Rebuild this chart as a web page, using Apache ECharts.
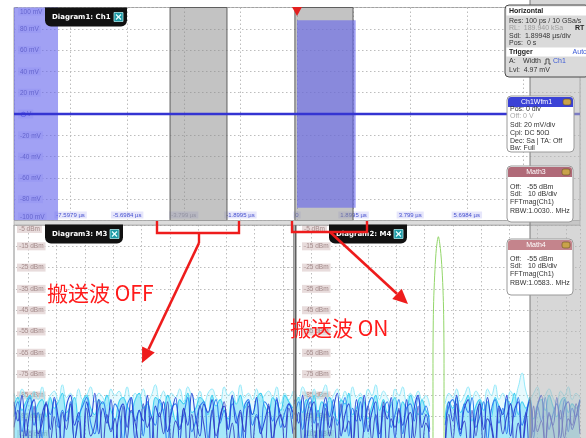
<!DOCTYPE html>
<html>
<head>
<meta charset="utf-8">
<script src="https://cdn.jsdelivr.net/npm/echarts@6/dist/echarts.min.js"></script>
<style>
html,body{margin:0;padding:0;background:#fff;}
#c{width:586px;height:438px;}
</style>
</head>
<body>
<div id="c"></div>
<script>
// ---- Diagram1: Ch1 (time domain) ----
const timePerDiv = 1.89948;             // µs/div
const timeTickLabels = ['', '-7.5979 µs', '-5.6984 µs', '-3.799 µs', '-1.8995 µs', '0',
                        '1.8995 µs', '3.799 µs', '5.6984 µs', '7.5979 µs', ''];
const voltTicks = [-100, -80, -60, -40, -20, 0, 20, 40, 60, 80, 100];
const voltTickLabels = ['-100 mV', '-80 mV', '-60 mV', '-40 mV', '-20 mV', '0 V',
                        '20 mV', '40 mV', '60 mV', '80 mV', '100 mV'];
const ch1Time = [-9.4974, 9.4974];      // µs
const ch1Volt = [0, 0];                 // mV (idle level)
const burstStart = [-9.4974, 0];        // µs
const burstEnd = [-8.02, 1.97];         // µs
const burstAmp = [100, 88];             // mV peak
const gateStart = [-4.26, -0.07];       // µs, FFT gate windows
const gateEnd = [-2.35, 1.88];          // µs

// ---- FFT diagrams (dBm); frequency expressed in screen divisions ----
const dbmTicks = [-105, -95, -85, -75, -65, -55, -45, -35, -25, -15, -5];
const m3Span = [0.49, 10.35];           // first / last bin, div
const m4Span = [0.42, 10.49];

// Diagram3: M3 (carrier off) persistence traces
const m3TraceA = [-90,-86,-92,-88,-85,-94,-89,-87,-95,-86,-91,-88,-84,-93,-90,-86,-97,-88,-85,-91,-94,-87,-89,-85,-92,-96,-88,-86,-90,-93,-87,-84,-91,-89,-95,-86,-88,-92,-85,-90,-97,-87,-89,-84,-93,-91,-86,-88,-94,-85,-90,-87,-92,-96,-86,-89,-85,-91,-88,-94,-87,-84,-90,-93,-86,-89,-92,-85,-88,-91];
const m3TraceB = [-84,-88,-82,-86,-90,-83,-87,-81,-89,-85,-83,-88,-80,-86,-84,-89,-82,-87,-85,-81,-88,-84,-86,-90,-82,-85,-83,-87,-81,-89,-84,-86,-82,-88,-85,-80,-87,-83,-89,-84,-86,-82,-88,-81,-85,-87,-83,-90,-84,-82,-86,-88,-81,-85,-83,-89,-80,-86,-84,-87,-82,-88,-85,-83,-86,-81,-89,-84,-87,-83];
const m3TraceC = [-95,-88,-102,-91,-86,-99,-93,-105,-89,-94,-87,-100,-92,-97,-88,-106,-95,-90,-86,-98,-103,-91,-88,-96,-101,-89,-93,-107,-90,-86,-97,-92,-104,-88,-95,-99,-87,-93,-108,-91,-89,-100,-94,-86,-102,-97,-90,-88,-105,-93,-87,-98,-92,-101,-89,-95,-106,-90,-87,-99,-94,-103,-88,-91,-97,-86,-100,-93,-89,-96];
const m3TraceD = [-88,-97,-85,-104,-92,-87,-110,-94,-89,-101,-86,-96,-108,-90,-85,-99,-93,-112,-88,-95,-84,-103,-91,-98,-87,-109,-94,-89,-100,-86,-106,-92,-97,-85,-111,-90,-95,-88,-102,-93,-86,-107,-91,-99,-84,-96,-104,-89,-93,-87,-110,-95,-90,-101,-85,-98,-92,-108,-88,-94,-86,-103,-97,-90,-111,-87,-95,-100,-89,-93];
const m3TraceE = [-100,-92,-109,-96,-114,-90,-103,-98,-88,-107,-95,-112,-93,-101,-89,-106,-97,-115,-91,-104,-99,-87,-110,-94,-102,-96,-113,-90,-105,-92,-98,-108,-89,-100,-95,-116,-93,-103,-88,-109,-97,-101,-91,-114,-94,-106,-90,-99,-111,-92,-104,-96,-88,-107,-98,-113,-93,-102,-90,-108,-95,-100,-112,-89,-105,-97,-94,-110,-91,-103];

// Diagram2: M4 (carrier on) persistence traces, no noise under the carrier lobe
const m4TraceA = [-89,-86,-93,-87,-91,-85,-95,-88,-90,-86, -92,-97,-87,-89,-84,-94,-91,-86,-88,-96, -90,-85,-92,-87,-93,-89,-86,-98,-88,-91, -85,-90,-94,-87,-92,-95,null,null,null,-96, -88,-91,-86,-93,-89,-85,-97,-90,-87,-92, -88,-95,-86,-90,-93,-87,-89,-84,-94,-88, -91,-86,-96,-89,-87,-92,-85,-90,-95,-88, -86,-93,-89,-91,-87];
const m4TraceB = [-83,-87,-81,-85,-89,-82,-86,-84,-80,-88, -85,-82,-87,-83,-89,-81,-86,-84,-88,-82, -85,-80,-87,-83,-86,-89,-82,-85,-81,-88, -84,-86,-83,-87,-85,-90,null,null,null,-89, -84,-86,-82,-88,-85,-81,-87,-83,-86,-89, -82,-85,-80,-87,-84,-88,-83,-86,-81,-74.5, -83,-87,-84,-81,-88,-85,-82,-86,-89,-83, -85,-81,-87,-84,-86];
const m4TraceC = [-94,-88,-101,-90,-86,-98,-92,-105,-89,-95, -87,-99,-93,-86,-104,-91,-97,-88,-102,-90, -86,-96,-107,-92,-88,-100,-94,-87,-103,-91, -89,-97,-86,-94,-90,-101,null,null,null,-99, -90,-87,-96,-104,-89,-93,-86,-100,-95,-88, -106,-92,-87,-98,-91,-103,-89,-95,-86,-99, -93,-88,-105,-90,-97,-86,-101,-94,-89,-96, -87,-102,-91,-95,-88];
const m4TraceD = [-87,-98,-85,-106,-92,-88,-111,-95,-86,-100, -91,-84,-104,-94,-89,-109,-87,-97,-85,-102, -93,-88,-113,-90,-96,-86,-105,-92,-99,-87, -108,-91,-85,-100,-94,-112,null,null,null,-110, -88,-97,-85,-103,-91,-87,-110,-95,-89,-101, -86,-98,-107,-90,-94,-85,-104,-92,-88,-111, -96,-87,-102,-90,-85,-108,-93,-99,-86,-105, -91,-88,-101,-95,-87];
const m4TraceE = [-101,-93,-110,-96,-88,-107,-98,-115,-91,-104, -95,-112,-89,-102,-97,-108,-92,-116,-99,-90, -106,-94,-103,-88,-113,-96,-100,-91,-109,-97, -93,-105,-90,-114,-98,-102,null,null,null,-112, -94,-106,-89,-101,-97,-115,-92,-104,-88,-109, -96,-100,-113,-91,-103,-95,-89,-110,-98,-107, -93,-116,-90,-102,-97,-108,-94,-100,-111,-92, -105,-96,-99,-89,-103];

// Carrier main lobe in M4 (position in divisions, level in dBm)
const carrierDiv = [5.30, 5.30, 5.31, 5.33, 5.37, 5.42, 5.49, 5.56, 5.62, 5.66, 5.68, 5.69, 5.69];
const carrierDbm = [-112, -70, -50, -38, -26, -16, -10.5, -16, -26, -38, -50, -70, -112];

const traceColors = ['#2cc9ef', '#8ae6f8', '#2f7ff0', '#2a48d8', '#3038c0'];
const FONT = '"Liberation Sans", Arial, sans-serif';
const DIV_PX = 28.3;                    // FFT division width

function tracePoints(values, span) {
  const n = values.length - 1;
  return values.map((v, i) => [span[0] + i * (span[1] - span[0]) / n, v === null ? '-' : v]);
}

function fftSeries(traces, span, axisIdx) {
  return traces.map((vals, k) => ({
    type: 'line', xAxisIndex: axisIdx, yAxisIndex: axisIdx,
    data: tracePoints(vals, span), smooth: 0.45, symbol: 'none', connectNulls: false,
    silent: true, z: 3 + k,
    lineStyle: { color: traceColors[k], width: k === 1 ? 0.9 : 1.1, opacity: k === 4 ? 0.85 : 1 },
    areaStyle: k === 0 ? { color: 'rgba(44,201,239,0.55)', origin: 'start' }
             : (k === 1 ? { color: 'rgba(138,230,248,0.3)', origin: 'start' } : undefined)
  }));
}

const dotted = { show: true, lineStyle: { color: '#bdbdbd', type: [1.5, 2.5], width: 1 } };

function fftYAxis(idx, margin) {
  return {
    type: 'value', gridIndex: idx, min: -105, max: -5, interval: 10,
    axisLine: { show: false }, axisTick: { show: false }, splitLine: dotted,
    axisLabel: {
      inside: true, margin: margin, fontSize: 6.5, fontFamily: FONT, color: '#a38a8a',
      backgroundColor: 'rgba(228,214,214,0.85)', padding: [1, 2, 0, 2],
      verticalAlignMinLabel: 'bottom', verticalAlignMaxLabel: 'top',
      formatter: v => dbmTicks[Math.round((v + 105) / 10)] + ' dBm'
    }
  };
}
function fftXAxis(idx, max) {
  return {
    type: 'value', gridIndex: idx, min: 0, max: max, interval: 1,
    axisLine: { show: false }, axisTick: { show: false }, splitLine: dotted,
    axisLabel: { show: false }
  };
}

function txt(x, y, text, opts) {
  opts = opts || {};
  return {
    type: 'text', x: x, y: y, z: opts.z || 122, silent: true,
    style: {
      text: text, fill: opts.fill || '#333', font: opts.font || ('7px ' + FONT),
      align: opts.align || 'left', verticalAlign: 'middle'
    }
  };
}

function tab(x, y, w, label) {
  return {
    type: 'group', x: x, y: y, z: 110, silent: true,
    children: [
      { type: 'rect', shape: { x: 0, y: 0, width: w, height: 19, r: [0, 0, 6, 6] }, style: { fill: '#111' }, z: 110 },
      txt(7, 9.5, label, { fill: '#fff', font: 'bold 7px "DejaVu Sans", sans-serif', z: 111 }),
      { type: 'rect', shape: { x: w - 13, y: 5, width: 9, height: 9 }, style: { fill: '#1d9aa6', stroke: '#a8e6ea', lineWidth: 0.8 }, z: 111 },
      { type: 'polyline', shape: { points: [[w - 11, 7], [w - 6, 12]] }, style: { stroke: '#e8ffff', lineWidth: 1.2 }, z: 112 },
      { type: 'polyline', shape: { points: [[w - 6, 7], [w - 11, 12]] }, style: { stroke: '#e8ffff', lineWidth: 1.2 }, z: 112 }
    ]
  };
}

function infoBox(x, y, w, h, title, headColor, rows) {
  const kids = [
    { type: 'rect', shape: { x: 0, y: 0, width: w, height: h, r: 4 }, style: { fill: '#fff', stroke: '#9a9a9a', lineWidth: 1 }, z: 120 },
    { type: 'rect', shape: { x: 1, y: 1, width: w - 2, height: 10, r: [3, 3, 0, 0] }, style: { fill: headColor }, z: 121 },
    txt(w / 2 - 4, 6, title, { fill: '#fff', align: 'center', z: 122 }),
    { type: 'rect', shape: { x: w - 11, y: 3, width: 8, height: 6, r: 2 }, style: { fill: '#c9a24a', stroke: '#6a5420', lineWidth: 0.6 }, z: 122 }
  ];
  rows.forEach(r => kids.push(txt(3, r[0], r[1], { fill: r[2] || '#333', z: 122 })));
  return { type: 'group', x: x, y: y, z: 120, silent: true, children: kids };
}

function arrow(x1, y1, x2, y2) {
  const ang = Math.atan2(y2 - y1, x2 - x1);
  const L = 15, W = 7;
  const bx = x2 - L * Math.cos(ang), by = y2 - L * Math.sin(ang);
  const px = -Math.sin(ang) * W, py = Math.cos(ang) * W;
  return [
    { type: 'polyline', z: 130, silent: true, shape: { points: [[x1, y1], [bx, by]] }, style: { stroke: '#ee1c1c', lineWidth: 2.6 } },
    { type: 'polygon', z: 130, silent: true, shape: { points: [[x2, y2], [bx + px, by + py], [bx - px, by - py]] }, style: { fill: '#ee1c1c' } }
  ];
}

const chart = echarts.init(document.getElementById('c'), null, { renderer: 'canvas', width: 586, height: 438 });

// FFT grids are laid on a 28.3 px lattice; the left strip and the panel seam are masked below
const m3GridW = 293, m4GridLeft = 283, m4GridW = 297;

const option = {
  animation: false,
  backgroundColor: '#fff',
  textStyle: { fontFamily: FONT },
  grid: [
    { left: 14, top: 7.5, width: 566, height: 213, show: true, borderColor: '#a0a0a0', borderWidth: 1, backgroundColor: '#fff' },
    { left: 0, top: 225, width: m3GridW, height: 213, show: false },
    { left: m4GridLeft, top: 225, width: m4GridW, height: 213, show: false }
  ],
  xAxis: [
    {
      type: 'value', gridIndex: 0, min: -5 * timePerDiv, max: 5 * timePerDiv, interval: timePerDiv,
      axisLine: { show: false }, axisTick: { show: false }, splitLine: dotted,
      axisLabel: {
        inside: true, margin: 2, fontSize: 6, fontFamily: FONT, color: '#4650cf',
        backgroundColor: 'rgba(226,226,250,0.85)', padding: [1, 2, 0, 2],
        showMinLabel: false, showMaxLabel: false,
        formatter: v => {
          const i = Math.round(v / timePerDiv) + 5;
          return i === 3 ? '{f|' + timeTickLabels[i] + '}' : timeTickLabels[i];
        },
        rich: { f: { color: '#9a9ab8', fontSize: 6, fontFamily: FONT } }
      }
    },
    fftXAxis(1, m3GridW / DIV_PX), fftXAxis(2, m4GridW / DIV_PX)
  ],
  yAxis: [
    {
      type: 'value', gridIndex: 0, min: -100, max: 100, interval: 20,
      axisLine: { show: false }, axisTick: { show: false }, splitLine: dotted,
      axisLabel: {
        inside: true, margin: 4, fontSize: 6.5, fontFamily: FONT, color: '#66669f',
        backgroundColor: 'rgba(232,232,252,0.8)', padding: [1, 2, 0, 2],
        verticalAlignMinLabel: 'bottom', verticalAlignMaxLabel: 'top',
        formatter: v => {
          const i = voltTicks.indexOf(Math.round(v));
          return v === 0 ? '{o|⊖}V' : voltTickLabels[i];
        },
        rich: { o: { color: '#3a3ad8', fontSize: 8 } }
      }
    },
    fftYAxis(1, 17), fftYAxis(2, 19)
  ],
  series: [
    // FFT gate windows
    {
      type: 'line', xAxisIndex: 0, yAxisIndex: 0, silent: true, z: 1,
      data: ch1Time.map((t, i) => [t, ch1Volt[i]]), symbol: 'none', lineStyle: { opacity: 0 },
      markArea: {
        silent: true,
        itemStyle: { color: 'rgba(140,140,140,0.52)', borderColor: '#5e5e5e', borderWidth: 1 },
        data: gateStart.map((s, i) => [{ xAxis: s, yAxis: -100 }, { xAxis: gateEnd[i], yAxis: 100 }])
      }
    },
    // RF bursts (dense carrier samples render as a filled envelope)
    {
      type: 'line', xAxisIndex: 0, yAxisIndex: 0, silent: true, z: 2,
      data: ch1Time.map((t, i) => [t, ch1Volt[i]]), symbol: 'none', lineStyle: { opacity: 0 },
      markArea: {
        silent: true,
        itemStyle: { color: 'rgba(98,98,236,0.6)' },
        data: burstStart.map((s, i) => [{ xAxis: s, yAxis: -burstAmp[i] }, { xAxis: burstEnd[i], yAxis: burstAmp[i] }])
      }
    },
    // Ch1 idle trace + trigger marker
    {
      type: 'line', xAxisIndex: 0, yAxisIndex: 0, silent: true, z: 4,
      data: ch1Time.map((t, i) => [t, ch1Volt[i]]), symbol: 'none',
      lineStyle: { color: '#3434d2', width: 2.4 },
      markPoint: {
        silent: true, symbol: 'triangle', symbolRotate: 180, symbolSize: [10, 9], symbolOffset: [0, 4],
        itemStyle: { color: '#e3201f' }, label: { show: false },
        data: [{ coord: [0, 100] }]
      }
    }
  ]
    .concat(fftSeries([m3TraceA, m3TraceB, m3TraceC, m3TraceD, m3TraceE], m3Span, 1))
    .concat(fftSeries([m4TraceA, m4TraceB, m4TraceC, m4TraceD, m4TraceE], m4Span, 2))
    .concat([{
      type: 'line', xAxisIndex: 2, yAxisIndex: 2, silent: true, z: 9,
      data: carrierDiv.map((d, i) => [d, carrierDbm[i]]), smooth: 0.3, symbol: 'none',
      lineStyle: { color: '#93d66a', width: 1 }
    }]),
  graphic: {
    elements: [
      // left margin mask and panel borders of the FFT diagrams
      { type: 'rect', z: 55, silent: true, shape: { x: 0, y: 220, width: 13.5, height: 218 }, style: { fill: '#fff' } },
      { type: 'line', z: 56, silent: true, shape: { x1: 14, y1: 225, x2: 14, y2: 438 }, style: { stroke: '#8c8c8c', lineWidth: 1 } },
      { type: 'line', z: 56, silent: true, shape: { x1: 14, y1: 225, x2: 580, y2: 225 }, style: { stroke: '#9a9a9a', lineWidth: 1 } },
      { type: 'line', z: 56, silent: true, shape: { x1: 293.5, y1: 225, x2: 293.5, y2: 438 }, style: { stroke: '#9a9a9a', lineWidth: 1 } },
      { type: 'line', z: 56, silent: true, shape: { x1: 295.5, y1: 225, x2: 295.5, y2: 438 }, style: { stroke: '#5e5e5e', lineWidth: 2 } },
      // ruler strip between diagrams
      { type: 'rect', z: 57, silent: true, shape: { x: 14, y: 220.5, width: 566, height: 4.5 }, style: { fill: '#dcdcdc', stroke: '#9a9a9a', lineWidth: 0.6 } },
      // dimmed side panel
      { type: 'rect', z: 60, silent: true, shape: { x: 530, y: 0, width: 56, height: 438 }, style: { fill: 'rgba(182,182,182,0.55)' } },
      { type: 'line', z: 61, silent: true, shape: { x1: 530, y1: 0, x2: 530, y2: 438 }, style: { stroke: '#7a7a7a', lineWidth: 1 } },

      tab(45, 7.5, 82, 'Diagram1: Ch1'),
      tab(45, 224.5, 78, 'Diagram3: M3'),
      tab(329, 224.5, 78, 'Diagram2: M4'),

      // Horizontal / Trigger settings
      {
        type: 'group', x: 505, y: 5, z: 120, silent: true,
        children: [
          { type: 'rect', z: 120, shape: { x: 0, y: 0, width: 84, height: 72, r: 4 }, style: { fill: '#dadada', stroke: '#4a4a4a', lineWidth: 1 } },
          { type: 'rect', z: 121, shape: { x: 1.5, y: 1.5, width: 82, height: 9 }, style: { fill: '#fff' } },
          txt(4, 6, 'Horizontal', { font: 'bold 7px ' + FONT, fill: '#222' }),
          txt(4, 16, 'Res: 100 ps / 10 GSa/s'),
          txt(4, 23.5, 'RL:  189.940 kSa', { fill: '#9c9c9c' }),
          txt(70, 23.5, 'RT', { font: 'bold 7px ' + FONT, fill: '#222' }),
          txt(4, 31.5, 'Sdl:  1.89948 µs/div'),
          txt(4, 38.5, 'Pos:  0 s'),
          { type: 'rect', z: 121, shape: { x: 1.5, y: 42.5, width: 82, height: 9 }, style: { fill: '#fff' } },
          txt(4, 47, 'Trigger', { font: 'bold 7px ' + FONT, fill: '#222' }),
          txt(82, 47, 'Auto', { fill: '#3d5bd6', align: 'right' }),
          txt(4, 56.5, 'A:'),
          txt(18, 56.5, 'Width'),
          { type: 'polyline', z: 122, shape: { points: [[39, 59], [41, 59], [41, 54], [44, 54], [44, 59], [46, 59]] }, style: { stroke: '#333', lineWidth: 0.8, fill: null } },
          txt(48, 56.5, 'Ch1', { fill: '#3d5bd6' }),
          txt(4, 65, 'Lvl:  4.97 mV')
        ]
      },
      infoBox(507, 96, 67, 56, 'Ch1Wfm1', '#3b42d6', [
        [13, 'Pos: 0 div'], [20, 'Off: 0 V', '#a8a8a8'], [29, 'Sdl: 20 mV/div'],
        [37, 'Cpl: DC 50Ω'], [45, 'Dec: Sa | TA: Off'], [52, 'Bw: Full']
      ]),
      infoBox(507, 166, 66, 56, 'Math3', '#b06a78', [
        [21, 'Off:   -55 dBm'], [28.5, 'Sdl:   10 dB/div'], [36.5, 'FFTmag(Ch1)'], [45, 'RBW:1.0030.. MHz']
      ]),
      infoBox(507, 239, 66, 56, 'Math4', '#c4848c', [
        [20, 'Off:   -55 dBm'], [27.5, 'Sdl:   10 dB/div'], [35.5, 'FFTmag(Ch1)'], [44, 'RBW:1.0583.. MHz']
      ]),

      // gate brackets
      { type: 'polyline', z: 130, silent: true, shape: { points: [[157, 221], [157, 233], [239, 233], [239, 221]] }, style: { stroke: '#ee1c1c', lineWidth: 2.4, fill: null } },
      { type: 'polyline', z: 130, silent: true, shape: { points: [[199, 233], [199, 243]] }, style: { stroke: '#ee1c1c', lineWidth: 2.4 } },
      { type: 'polyline', z: 130, silent: true, shape: { points: [[292, 221], [292, 232], [367, 232], [367, 221]] }, style: { stroke: '#ee1c1c', lineWidth: 2.4, fill: null } }
    ]
      .concat(arrow(199, 243, 142, 363))
      .concat(arrow(330, 232, 408, 304))
      .concat([
        txt(47, 293, '搬送波 OFF', { fill: '#ff1a1a', font: '21px "Noto Sans CJK JP", sans-serif', z: 131 }),
        txt(290, 328, '搬送波 ON', { fill: '#ff1a1a', font: '21px "Noto Sans CJK JP", sans-serif', z: 131 })
      ])
  }
};

chart.setOption(option);
</script>
</body>
</html>
